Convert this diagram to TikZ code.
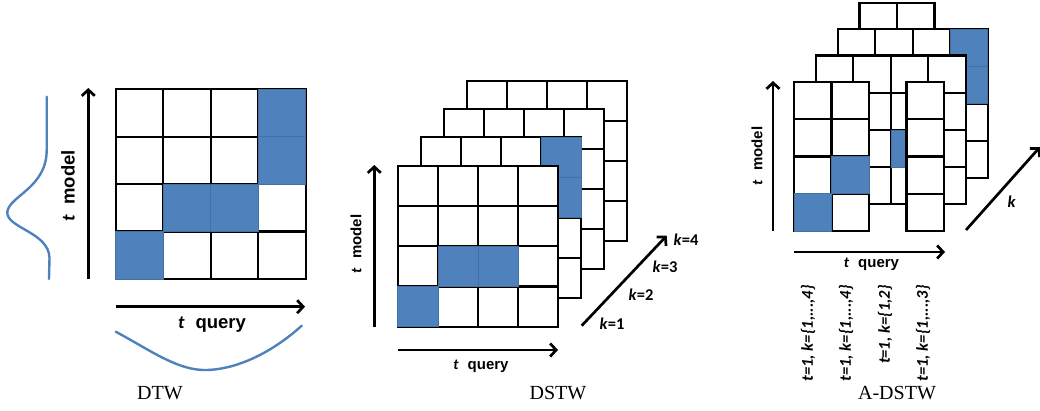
\documentclass[tikz,border=0pt]{standalone}
\usepackage{fontspec}
\setmainfont{Liberation Serif}
\newfontfamily\arialf{Liberation Sans}
\newfontfamily\calf{Carlito}
\usetikzlibrary{arrows.meta}
\definecolor{cellblue}{HTML}{4F81BD}
\definecolor{celledge}{HTML}{41719C}
\tikzset{
  cellline/.style={draw=black,line width=2.2pt,line join=miter,fill=white},
  bluecell/.style={fill=cellblue,draw=celledge,line width=0.6pt},
  ax/.style={line width=2.7pt,-{Straight Barb[length=6pt,width=13pt,line width=2.7pt]}},
  curve/.style={draw=cellblue,line width=2.4pt,line cap=round},
  captxt/.style={font=\fontsize{20}{20}\selectfont,inner sep=0pt},
  vlab/.style={rotate=90,anchor=east,inner sep=0pt,font=\calf\bfseries\itshape\fontsize{16.5}{16.5}\selectfont},
  klab/.style={inner sep=0pt,font=\calf\bfseries\fontsize{16.5}{16.5}\selectfont}
}
% #1 x0, #2 y0, #3 cell w, #4 cell h, #5 list of columns
\newcommand\gridlayer[5]{%
  \foreach \c in {#5}{\foreach \r in {0,1,2,3}{%
    \path[cellline] ({#1+\c*#3},{#2+\r*#4}) rectangle ++(#3,#4);}}}
% #1 x0, #2 y0, #3 w, #4 h, #5 col, #6 row
\newcommand\bluesq[6]{%
  \path[bluecell] ({#1+#5*#3},{#2+#6*#4}) rectangle ++(#3,#4);}
\newcommand\tlab[2]{{\calf\bfseries\itshape #1}\hspace{0.6em}{\arialf\bfseries #2}}
\begin{document}
\begin{tikzpicture}[x=1pt,y=-1pt]
\path[use as bounding box] (0,0) rectangle (1040,411);
% ---------------- DTW ----------------
\gridlayer{115.7}{89.3}{47.5}{47.4}{0,1,2,3}
\bluesq{115.7}{89.3}{47.5}{47.4}{3}{0}
\bluesq{115.7}{89.3}{47.5}{47.4}{3}{1}
\bluesq{115.7}{89.3}{47.5}{47.4}{1}{2}
\bluesq{115.7}{89.3}{47.5}{47.4}{2}{2}
\bluesq{115.7}{89.3}{47.5}{47.4}{0}{3}
\coordinate (dtwVa) at (88.3,279);
\coordinate (dtwVb) at (88.3,88);
\coordinate (dtwHa) at (115.7,306.7);
\coordinate (dtwHb) at (305,306.7);
\draw[ax] (dtwVa) -- (dtwVb);
\draw[ax] (dtwHa) -- (dtwHb);
\node[rotate=90,inner sep=0pt,font=\fontsize{18.5}{18}\selectfont] (dtwM) at (68,186) {\tlab{t}{model}};
\node[inner sep=0pt,font=\fontsize{18.5}{18}\selectfont] (dtwQ) at (212,325) {\tlab{t}{query}};
\draw[curve] (46.7,96.7) -- (46.7,150) .. controls (46.7,188) and (9,196) .. (7.3,212)
  .. controls (6,228) and (49,232) .. (49.5,258) -- (49,279);
\draw[curve] (115.7,331.7) .. controls (150,350) and (178,371) .. (207,370)
  .. controls (240,369) and (275,350) .. (301.7,325.7);
\node[captxt] (capA) at (160,393) {DTW};
% ---------------- DSTW ----------------
\gridlayer{466.7}{80.7}{40.15}{40.1}{0,1,2,3}
\gridlayer{443.7}{109}{40.15}{40.1}{0,1,2,3}
\gridlayer{420.7}{137.4}{40.15}{40.1}{0,1,2,3}
\bluesq{420.7}{137.4}{40.15}{40.1}{3}{0}
\bluesq{420.7}{137.4}{40.15}{40.1}{3}{1}
\gridlayer{397.7}{165.7}{40.15}{40.25}{0,1,2,3}
\bluesq{397.7}{165.7}{40.15}{40.25}{0}{3}
\bluesq{397.7}{165.7}{40.15}{40.25}{1}{2}
\bluesq{397.7}{165.7}{40.15}{40.25}{2}{2}
\coordinate (dsVa) at (374.3,327);
\coordinate (dsVb) at (374.3,165);
\coordinate (dsHa) at (397.7,350);
\coordinate (dsHb) at (558,350);
\coordinate (dsKa) at (581.7,325.7);
\coordinate (dsKb) at (666.7,235.7);
\draw[ax] (dsVa) -- (dsVb);
\draw[ax] (dsHa) -- (dsHb);
\draw[ax] (dsKa) -- (dsKb);
\node[rotate=90,inner sep=0pt,font=\fontsize{15}{15}\selectfont] (dsM) at (356,244) {\tlab{t}{model}};
\node[inner sep=0pt,font=\fontsize{15}{15}\selectfont] (dsQ) at (481,366) {\tlab{t}{query}};
\node[klab] (k1) at (612,323.3) {\textit{k}=1};
\node[klab] (k2) at (641,295) {\textit{k}=2};
\node[klab] (k3) at (665,267) {\textit{k}=3};
\node[klab] (k4) at (686,240) {\textit{k}=4};
\node[captxt] (capB) at (558,393) {DSTW};
% ---------------- A-DSTW ----------------
\gridlayer{859.4}{2.8}{37.5}{37.3}{0,1}
\gridlayer{837.6}{29.2}{37.5}{37.3}{0,1,2,3}
\bluesq{837.6}{29.2}{37.5}{37.3}{3}{0}
\bluesq{837.6}{29.2}{37.5}{37.3}{3}{1}
\gridlayer{815.8}{55.6}{37.5}{37.2}{0,1,2,3}
\bluesq{815.8}{55.6}{37.5}{37.2}{2}{2}
\gridlayer{794}{82}{37.5}{37.25}{0,1,3}
\bluesq{794}{82}{37.5}{37.25}{0}{3}
\bluesq{794}{82}{37.5}{37.25}{1}{2}
\coordinate (adVa) at (773,231);
\coordinate (adVb) at (773,81);
\coordinate (adHa) at (794,252);
\coordinate (adHb) at (945,252);
\coordinate (adKa) at (966,230);
\coordinate (adKb) at (1040,147);
\draw[ax] (adVa) -- (adVb);
\draw[ax] (adHa) -- (adHb);
\draw[ax] (adKa) -- (adKb);
\node[rotate=90,inner sep=0pt,font=\fontsize{15}{15}\selectfont] (adM) at (757,156) {\tlab{t}{model}};
\node[inner sep=0pt,font=\fontsize{15}{15}\selectfont] (adQ) at (871.5,264) {\tlab{t}{query}};
\node[klab] (kk) at (1011.7,201.7) {\textit{k}};
\node[vlab] (l1) at (808,285) {t=1, k=\{1,...,4\}};
\node[vlab] (l2) at (846,285) {t=1, k=\{1,...,4\}};
\node[vlab] (l3) at (885,285) {t=1, k=\{1,2\}};
\node[vlab] (l4) at (923,285) {t=1, k=\{1,...,3\}};
\node[captxt] (capC) at (897,393) {A-DSTW};
\end{tikzpicture}
\end{document}
